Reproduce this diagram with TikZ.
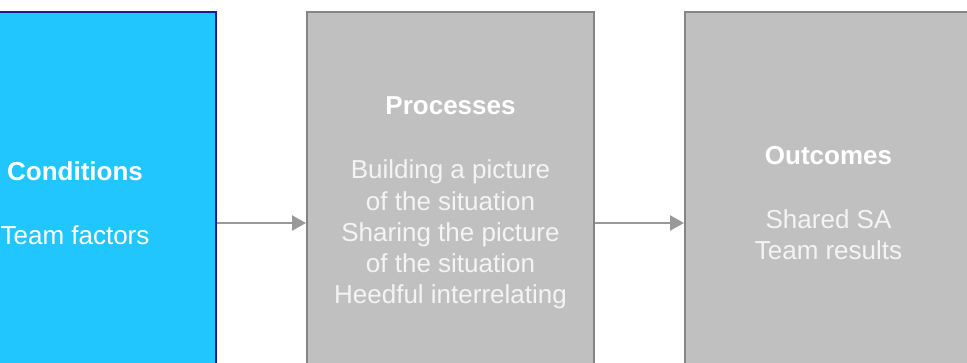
\documentclass[tikz,border=0pt]{standalone}
\usepackage{fontspec}
\setmainfont{Liberation Sans}
\usetikzlibrary{arrows.meta}
\definecolor{cyanfill}{HTML}{21C6FF}
\definecolor{navyline}{HTML}{1A1A96}
\definecolor{grayfill}{HTML}{C0C0C0}
\definecolor{grayline}{HTML}{858585}
\definecolor{arrowgray}{HTML}{999999}
\definecolor{bodytext}{HTML}{F4F4F4}
\tikzset{
  panel/.style={rectangle, line width=2pt, minimum height=382pt, align=center,
    text=white, font=\fontsize{26}{31.3}\selectfont, inner sep=0pt},
  condpanel/.style={panel, fill=cyanfill, draw=navyline, minimum width=282pt},
  graypanel/.style={panel, fill=grayfill, draw=grayline, minimum width=287pt, text=bodytext},
  flow/.style={draw=arrowgray, line width=2.5pt, -{Triangle[length=14pt,width=15pt]}}
}
\begin{document}
\begin{tikzpicture}[x=1pt,y=-1pt]
\useasboundingbox (0,0) rectangle (967,363);
\clip (0,0) rectangle (967,363);
\node[condpanel] (cond) at (75,203) {\textbf{Conditions}\\[33pt]Team factors};
\node[graypanel] (proc) at (450.5,203) {\textcolor{white}{\textbf{Processes}}\\[33pt]Building a picture\\of the situation\\Sharing the picture\\of the situation\\Heedful interrelating};
\node[graypanel] (outc) at (828.5,203) {\textcolor{white}{\textbf{Outcomes}}\\[33pt]Shared SA\\Team results};
\draw[flow] ([yshift=-20pt]cond.east) -- ([yshift=-20pt]proc.west);
\draw[flow] ([yshift=-20pt]proc.east) -- ([yshift=-20pt]outc.west);
\end{tikzpicture}
\end{document}
